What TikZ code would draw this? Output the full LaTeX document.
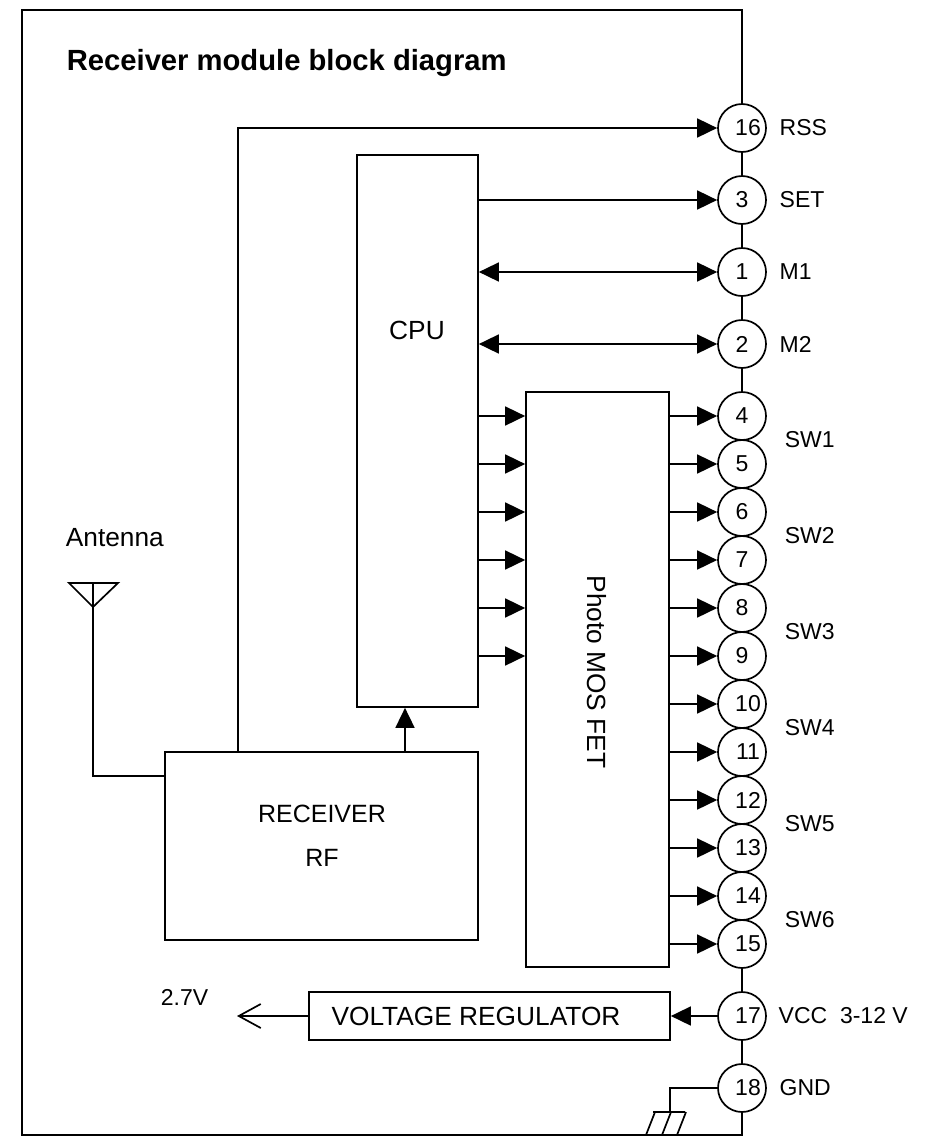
\documentclass[tikz,border=0pt]{standalone}
\usepackage{fontspec}
\setmainfont{Liberation Sans}
\usetikzlibrary{arrows.meta}
\begin{document}
\begin{tikzpicture}[x=1pt,y=-1pt,line width=1.7pt,
  pin/.style={draw,circle,minimum size=48pt,inner sep=0pt,font=\fontsize{23}{27}\selectfont},
  pinnum/.style={font=\fontsize{23}{27}\selectfont,inner sep=0pt,xshift=6pt},
  pinlbl/.style={anchor=west,font=\fontsize{23}{27}\selectfont,inner sep=0pt},
  box/.style={draw,rectangle,inner sep=0pt},
  txt/.style={font=\fontsize{25}{30}\selectfont,inner sep=0pt},
  bigtxt/.style={font=\fontsize{26.3}{31}\selectfont,inner sep=0pt},
  tri/.style={-{Triangle[length=20pt,width=19pt]}},
  dtri/.style={{Triangle[length=20pt,width=19pt]}-{Triangle[length=20pt,width=19pt]}},
]
\useasboundingbox (0,0) rectangle (930,1138);

% blocks
\node[box,minimum width=121pt,minimum height=552pt] (cpu) at (417.5,431) {};
\node[bigtxt] (cpul) at (417,330) {CPU};
\node[box,minimum width=143pt,minimum height=575pt] (mos) at (597.5,679.5) {};
\node[bigtxt,rotate=-90] (mosl) at (597,672) {Photo MOS FET};
\node[box,minimum width=313pt,minimum height=188pt] (rf) at (321.5,846) {};
\node[txt,align=center] (rfl) at (322,836) {RECEIVER\\[14pt]RF};
\node[box,minimum width=361pt,minimum height=48pt] (vr) at (489.5,1016) {};
\node[bigtxt] (vrl) at (476,1016) {VOLTAGE REGULATOR};

% pins
\node[pin] (p16) at (742,128) {}; \node[pinnum] (n16) at (p16) {16};
\node[pin] (p3) at (742,200) {3};
\node[pin] (p1) at (742,272) {1};
\node[pin] (p2) at (742,344) {2};
\node[pin] (p4) at (742,416) {4};
\node[pin] (p5) at (742,464) {5};
\node[pin] (p6) at (742,512) {6};
\node[pin] (p7) at (742,560) {7};
\node[pin] (p8) at (742,608) {8};
\node[pin] (p9) at (742,656) {9};
\node[pin] (p10) at (742,704) {}; \node[pinnum] (n10) at (p10) {10};
\node[pin] (p11) at (742,752) {}; \node[pinnum] (n11) at (p11) {11};
\node[pin] (p12) at (742,800) {}; \node[pinnum] (n12) at (p12) {12};
\node[pin] (p13) at (742,848) {}; \node[pinnum] (n13) at (p13) {13};
\node[pin] (p14) at (742,896) {}; \node[pinnum] (n14) at (p14) {14};
\node[pin] (p15) at (742,944) {}; \node[pinnum] (n15) at (p15) {15};
\node[pin] (p17) at (742,1016) {}; \node[pinnum] (n17) at (p17) {17};
\node[pin] (p18) at (742,1088) {}; \node[pinnum] (n18) at (p18) {18};

% pin labels
\node[pinlbl] (lrss) at ([xshift=12pt]p16.east) {RSS};
\node[pinlbl] (lset) at ([xshift=12pt]p3.east) {SET};
\node[pinlbl] (lm1) at ([xshift=12pt]p1.east) {M1};
\node[pinlbl] (lm2) at ([xshift=12pt]p2.east) {M2};
\node[pinlbl] (lsw1) at (784,440) {SW1};
\node[pinlbl] (lsw2) at (784,536) {SW2};
\node[pinlbl] (lsw3) at (784,632) {SW3};
\node[pinlbl] (lsw4) at (784,728) {SW4};
\node[pinlbl] (lsw5) at (784,824) {SW5};
\node[pinlbl] (lsw6) at (784,920) {SW6};
\node[pinlbl] (lvcc) at ([xshift=11pt]p17.east) {VCC\ \ 3-12 V};
\node[pinlbl] (lgnd) at ([xshift=12pt]p18.east) {GND};

% title and other labels
\node[anchor=base west,inner sep=0pt,font=\bfseries\fontsize{29.2}{33}\selectfont] (title) at (66,70) {Receiver module block diagram};
\node[bigtxt,anchor=base west] (antl) at (65,546) {Antenna};
\node[pinlbl,anchor=base west] (l27) at (160,1005) {2.7V};

% frame and pin chain
\coordinate (tr) at (742,10);
\coordinate (tl) at (22,10);
\coordinate (bl) at (22,1135);
\coordinate (br) at (742,1135);
\draw (p16) -- (tr) -- (tl) -- (bl) -- (br) -- (p18);
\draw (p16) -- (p3);
\draw (p3) -- (p1);
\draw (p1) -- (p2);
\draw (p2) -- (p4);
\draw (p15) -- (p17);
\draw (p17) -- (p18);

% CPU connections
\draw[tri] (cpu.east |- p3) -- (p3);
\draw[dtri] (cpu.east |- p1) -- (p1);
\draw[dtri] (cpu.east |- p2) -- (p2);
\foreach \i in {4,5,6,7,8,9} {
  \draw[tri] (cpu.east |- p\i) -- (mos.west |- p\i);
}
\foreach \i in {4,5,6,7,8,9,10,11,12,13,14,15} {
  \draw[tri] (mos.east |- p\i) -- (p\i);
}

% receiver connections
\coordinate (rssx) at (238,0);
\draw[tri] (rf.north -| rssx) |- (p16);
\coordinate (rfcx) at (405,0);
\draw[tri] (rf.north -| rfcx) -- (cpu.south -| rfcx);

% antenna
\coordinate (ant) at (93,583);
\coordinate (antfoot) at (93,776);
\draw[line join=miter] (69,583) -- (118,583) -- (93,607) -- cycle;
\draw (ant) -- (antfoot) -- (rf.west |- antfoot);

% voltage regulator
\draw[tri] (p17) -- (vr.east);
\coordinate (out) at (237,1016);
\draw[-{Straight Barb[length=22pt,width=24pt]}] (vr.west) -- (out);

% ground
\coordinate (g1) at (670,1088);
\coordinate (g2) at (670,1112);
\draw (p18) -- (g1) -- (g2);
\draw (653,1112) -- (685,1112);
\draw (655,1112) -- (646,1135);
\draw (671,1112) -- (662,1135);
\draw (686,1112) -- (677,1135);
\end{tikzpicture}
\end{document}
